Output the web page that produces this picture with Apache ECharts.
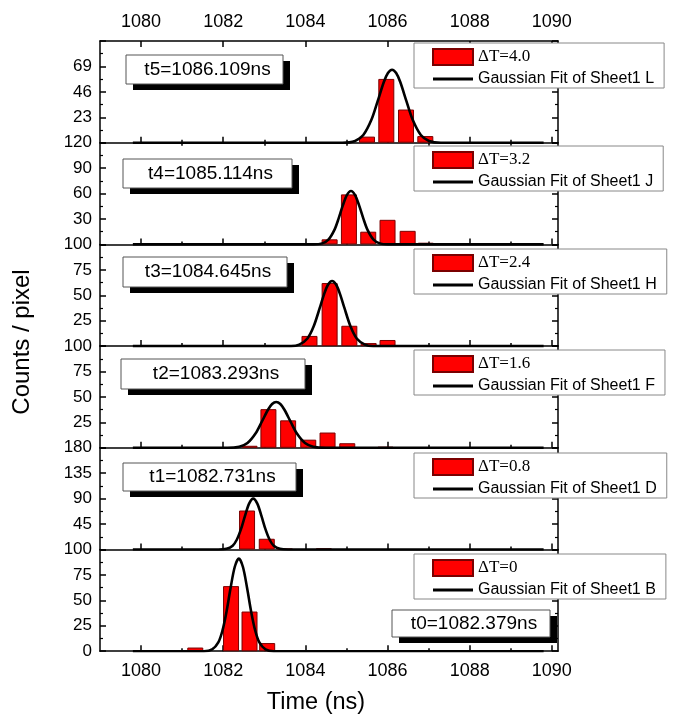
<!DOCTYPE html>
<html><head><meta charset="utf-8">
<script src="https://cdn.jsdelivr.net/npm/echarts@6/dist/echarts.min.js"></script>
<style>html,body{margin:0;padding:0;background:#fff}#c{width:676px;height:717px}</style>
</head><body><div id="c"></div>
<script>
// ---------- data ----------
const xMajorTicks = [1080, 1082, 1084, 1086, 1088, 1090];
const xMinorTicks = [1081, 1083, 1085, 1087, 1089];
const yMax = [92, 120, 100, 100, 180, 100];
const yStep = [23, 30, 25, 25, 45, 25];
const deltaT = ['ΔT=4.0', 'ΔT=3.2', 'ΔT=2.4', 'ΔT=1.6', 'ΔT=0.8', 'ΔT=0'];
const fitNames = ['Gaussian Fit of Sheet1 L', 'Gaussian Fit of Sheet1 J', 'Gaussian Fit of Sheet1 H',
                  'Gaussian Fit of Sheet1 F', 'Gaussian Fit of Sheet1 D', 'Gaussian Fit of Sheet1 B'];
const peakLabels = ['t5=1086.109ns', 't4=1085.114ns', 't3=1084.645ns', 't2=1083.293ns', 't1=1082.731ns', 't0=1082.379ns'];

const bars5 = [[1085.50, 5.5], [1085.97, 57.7], [1086.45, 30], [1086.92, 6]];
const bars4 = [[1084.59, 6], [1085.06, 59], [1085.53, 15], [1086.00, 29], [1086.49, 16], [1086.93, 2]];
const bars3 = [[1084.10, 10], [1084.59, 62], [1085.07, 20], [1085.54, 3], [1086.00, 6], [1086.50, 1], [1087.00, 1]];
const bars2 = [[1082.64, 2], [1083.10, 38], [1083.58, 27], [1084.07, 8], [1084.54, 15], [1085.02, 4.5], [1085.95, 1]];
const bars1 = [[1082.58, 69], [1083.06, 19], [1083.50, 1.5], [1084.45, 2]];
const bars0 = [[1081.32, 3.6], [1082.19, 64], [1082.64, 39], [1083.07, 8]];

const fit5 = [[1079.8,0],[1084.9,0],[1085.21,1.6],[1085.41,6.9],[1085.61,20.9],[1085.76,37.6],[1085.91,54.9],[1086.01,63],[1086.11,66],[1086.21,63],[1086.31,54.9],[1086.46,37.6],[1086.61,20.9],[1086.81,6.9],[1087.01,1.6],[1087.3,0],[1089.8,0]];
const fit4 = [[1079.8,0],[1084.2,0],[1084.41,1.2],[1084.56,5.6],[1084.71,17.5],[1084.81,30.7],[1084.91,45.7],[1085.01,58.2],[1085.11,63],[1085.21,58.2],[1085.31,45.7],[1085.41,30.7],[1085.51,17.5],[1085.66,5.6],[1085.81,1.2],[1086.0,0],[1089.8,0]];
const fit3 = [[1079.8,0],[1083.65,0],[1083.85,1.4],[1084.05,7.5],[1084.2,19.2],[1084.35,37.5],[1084.45,50.4],[1084.55,60.3],[1084.65,64],[1084.75,60.3],[1084.85,50.4],[1084.95,37.5],[1085.1,19.2],[1085.25,7.5],[1085.45,1.4],[1085.65,0],[1089.8,0]];
const fit2 = [[1079.8,0],[1082.1,0],[1082.39,1.1],[1082.59,4.7],[1082.79,14.3],[1082.94,25.7],[1083.09,37.4],[1083.19,43],[1083.29,45],[1083.39,43],[1083.49,37.4],[1083.64,25.7],[1083.79,14.3],[1083.99,4.7],[1084.19,1.1],[1084.5,0],[1089.8,0]];
const fit1 = [[1079.8,0],[1081.88,0],[1082.08,1.2],[1082.23,6.8],[1082.33,17.2],[1082.43,35.5],[1082.53,59.5],[1082.63,81.2],[1082.73,90],[1082.83,81.2],[1082.93,59.5],[1083.03,35.5],[1083.13,17.2],[1083.23,6.8],[1083.38,1.2],[1083.58,0],[1089.8,0]];
const fit0 = [[1079.8,0],[1081.53,0],[1081.73,1.7],[1081.88,8.6],[1081.98,20.1],[1082.08,38.9],[1082.18,62.4],[1082.28,82.8],[1082.38,91],[1082.48,82.8],[1082.58,62.4],[1082.68,38.9],[1082.78,20.1],[1082.88,8.6],[1083.03,1.7],[1083.23,0],[1089.8,0]];

const barSets = [bars5, bars4, bars3, bars2, bars1, bars0];
const fitSets = [fit5, fit4, fit3, fit2, fit1, fit0];

// ---------- layout ----------
const X_MIN = 1079, X_MAX = 1090.15;
const GRID_LEFT = 100, GRID_RIGHT = 118, TOP0 = 41, PANEL_H = 101.7;
const legendTops = [43, 146, 249, 350, 453, 554];
const tBoxes = [[126,55,157,29],[123,159,169,29],[123,257,164,30],[121,359,184,30],[123,463,173,28],[392,610,158,27]];
const SANS = '"Liberation Sans", Arial, sans-serif';
const SERIF = '"Liberation Serif", "Times New Roman", serif';
const axisLine = {show: true, onZero: false, lineStyle: {color: '#000', width: 1.5}};
const tickStyle = {color: '#000', width: 1.5};
const plain = v => String(v);
const LINE_ICON = 'path://M0,0 L42,0 L42,3 L0,3 Z';

const n = 6;
const grid = [], xAxis = [], yAxis = [], series = [], legend = [], graphic = [];
for (let i = 0; i < n; i++) {
  grid.push({left: GRID_LEFT, right: GRID_RIGHT, top: TOP0 + i * PANEL_H, height: PANEL_H});
  xAxis.push({type: 'value', gridIndex: i, position: 'bottom', min: X_MIN, max: X_MAX,
    axisLine, splitLine: {show: false},
    axisTick: {show: true, inside: true, length: 6, customValues: xMajorTicks, lineStyle: tickStyle},
    axisLabel: {show: i === n - 1, customValues: xMajorTicks, formatter: plain, fontSize: 18, color: '#000', fontFamily: SANS, margin: 11}});
  xAxis.push({type: 'value', gridIndex: i, position: 'bottom', min: X_MIN, max: X_MAX,
    axisLine: {show: false}, splitLine: {show: false},
    axisTick: {show: true, inside: true, length: 3, customValues: xMinorTicks, lineStyle: tickStyle},
    axisLabel: {show: false}});
  const yBase = {type: 'value', gridIndex: i, min: 0, max: yMax[i], interval: yStep[i],
    axisLine: {show: true, onZero: false, lineStyle: {color: '#000', width: 1.5}}, splitLine: {show: false},
    axisTick: {show: true, inside: true, length: 6, lineStyle: tickStyle},
    minorTick: {show: true, splitNumber: 2, length: 3, lineStyle: {color: '#000', width: 1.2}}};
  yAxis.push(Object.assign({}, yBase, {position: 'left',
    axisLabel: {showMinLabel: i === n - 1, showMaxLabel: i !== 0, fontSize: 17, color: '#000', fontFamily: SANS, margin: 8}}));
  yAxis.push(Object.assign({}, yBase, {position: 'right', axisLabel: {show: false}}));

  series.push({type: 'bar', name: deltaT[i], xAxisIndex: 2 * i, yAxisIndex: 2 * i, data: barSets[i],
    barWidth: 16, itemStyle: {color: '#ff0000', borderColor: '#7a0000', borderWidth: 1}, z: 2});
  series.push({type: 'line', name: fitNames[i], xAxisIndex: 2 * i, yAxisIndex: 2 * i, data: fitSets[i],
    smooth: 0.3, symbol: 'none', lineStyle: {color: '#000', width: 2.6}, itemStyle: {color: '#000'}, z: 3});

  legend.push({left: 414, top: legendTops[i], orient: 'vertical', itemWidth: 40, itemHeight: 16, itemGap: 5,
    padding: [5, 10, 1, 18], borderColor: '#888', borderWidth: 1, backgroundColor: '#fff', selectedMode: false,
    textStyle: {fontFamily: SANS, fontSize: 16, color: '#000', lineHeight: 16},
    data: [{name: deltaT[i], icon: 'rect', textStyle: {fontFamily: SERIF, fontSize: 17}},
           {name: fitNames[i], icon: LINE_ICON, itemStyle: {color: '#000', borderWidth: 0}}]});

  const [bx, by, bw, bh] = tBoxes[i];
  graphic.push({type: 'rect', shape: {x: bx + 7, y: by + 6, width: bw, height: bh}, style: {fill: '#000'}, z: 10});
  graphic.push({type: 'rect', shape: {x: bx, y: by, width: bw, height: bh}, style: {fill: '#fff', stroke: '#555', lineWidth: 1}, z: 11});
  graphic.push({type: 'text', x: bx + bw / 2 + 3, y: by + bh / 2, z: 12,
    style: {text: peakLabels[i], fontSize: 19, fontFamily: SANS, fill: '#000', align: 'center', verticalAlign: 'middle', textAlign: 'center', textVerticalAlign: 'middle'}});
}
// top axis of the upper panel
xAxis.push({type: 'value', gridIndex: 0, position: 'top', min: X_MIN, max: X_MAX,
  axisLine, splitLine: {show: false},
  axisTick: {show: true, inside: true, length: 6, customValues: xMajorTicks, lineStyle: tickStyle},
  axisLabel: {show: true, customValues: xMajorTicks, formatter: plain, fontSize: 18, color: '#000', fontFamily: SANS, margin: 10}});
xAxis.push({type: 'value', gridIndex: 0, position: 'top', min: X_MIN, max: X_MAX,
  axisLine: {show: false}, splitLine: {show: false},
  axisTick: {show: true, inside: true, length: 3, customValues: xMinorTicks, lineStyle: tickStyle},
  axisLabel: {show: false}});

graphic.push({type: 'text', x: 22, y: 342, rotation: Math.PI / 2, z: 12,
  style: {text: 'Counts / pixel', fontSize: 24, fontFamily: SANS, fill: '#000', align: 'center', verticalAlign: 'middle', textAlign: 'center', textVerticalAlign: 'middle'}});
graphic.push({type: 'text', x: 316, y: 703, z: 12,
  style: {text: 'Time (ns)', fontSize: 23.5, fontFamily: SANS, fill: '#000', align: 'center', verticalAlign: 'middle', textAlign: 'center', textVerticalAlign: 'middle'}});

const chart = echarts.init(document.getElementById('c'), null, {renderer: 'canvas'});
chart.setOption({animation: false, backgroundColor: '#fff', grid, xAxis, yAxis, series, legend, graphic});
</script></body></html>
